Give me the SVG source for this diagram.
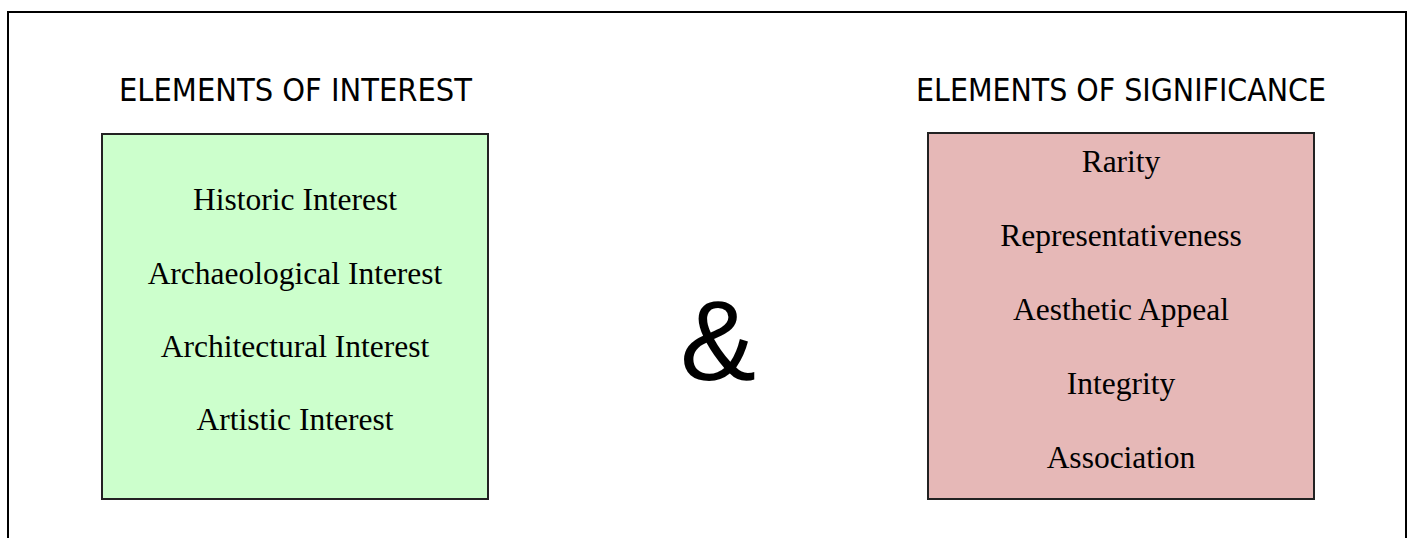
<svg xmlns="http://www.w3.org/2000/svg" width="1410" height="538" viewBox="0 0 1410 538">
<style>
.title{font-family:"DejaVu Sans Condensed","DejaVu Sans",sans-serif;font-size:32px;fill:#000;text-anchor:middle}
.item{font-family:"Liberation Serif","Times New Roman",serif;font-size:31.5px;fill:#000;text-anchor:middle}
.box{stroke:#222;stroke-width:2}
</style>
<rect x="0" y="0" width="1410" height="538" fill="#fff"/>
<rect id="frame" x="8" y="12" width="1398" height="560" fill="none" stroke="#000" stroke-width="2"/>
<g id="connectors"/>
<g id="interest">
<text class="title" x="295.5" y="101" textLength="353" lengthAdjust="spacingAndGlyphs">ELEMENTS OF INTEREST</text>
<rect class="box" x="102" y="134" width="386" height="365" fill="#CCFFCC"/>
<text class="item" x="295" y="210">Historic Interest</text>
<text class="item" x="295" y="284">Archaeological Interest</text>
<text class="item" x="295" y="357">Architectural Interest</text>
<text class="item" x="295" y="430">Artistic Interest</text>
</g>
<g id="ampersand">
<text x="718" y="380" font-family="'Liberation Sans',Arial,sans-serif" font-size="114" text-anchor="middle" fill="#000">&amp;</text>
</g>
<g id="significance">
<text class="title" x="1121" y="101" textLength="410" lengthAdjust="spacingAndGlyphs">ELEMENTS OF SIGNIFICANCE</text>
<rect class="box" x="928" y="133" width="386" height="366" fill="#E6B8B7"/>
<text class="item" x="1121" y="172">Rarity</text>
<text class="item" x="1121" y="246">Representativeness</text>
<text class="item" x="1121" y="320">Aesthetic Appeal</text>
<text class="item" x="1121" y="394">Integrity</text>
<text class="item" x="1121" y="468">Association</text>
</g>
</svg>
